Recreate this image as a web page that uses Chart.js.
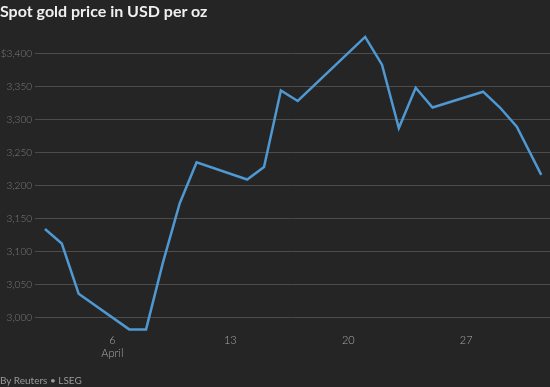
<!DOCTYPE html>
<html>
<head>
<meta charset="utf-8">
<script src="https://cdn.jsdelivr.net/npm/chart.js@4"></script>
<style>
  body { margin: 0; background: #252525; }
  #wrap { position: relative; width: 550px; height: 387px; overflow: hidden; }
  #title { position: absolute; left: 0; top: 1px; font: bold 16px Lato, sans-serif; color: #efefef; white-space: nowrap; }
  #source { position: absolute; left: 0; top: 374px; font: 10px Lato, sans-serif; color: #9a9a9a; white-space: nowrap; }
  canvas { position: absolute; left: 0; top: 0; }
</style>
</head>
<body>
<div id="wrap">
  <canvas id="goldChart" width="550" height="387"></canvas>
  <div id="title">Spot gold price in USD per oz</div>
  <div id="source">By Reuters • LSEG</div>
</div>
<script>
// day of month (31 = May 1, intraday)
const days = [2, 3, 4, 7, 8, 9, 10, 11, 14, 15, 16, 17, 21, 22, 23, 24, 25, 28, 29, 30, 31.45];
const prices = [3134, 3112, 3036, 2982, 2982, 3083, 3173, 3235, 3209, 3228, 3344, 3328, 3425, 3383, 3287, 3348, 3318, 3342, 3318, 3289, 3216];

const yTicks = [3000, 3050, 3100, 3150, 3200, 3250, 3300, 3350, 3400];
const xTicks = [6, 13, 20, 27];
const xTickLabels = [['6', 'April'], '13', '20', '27'];

const ctx = document.getElementById('goldChart');
new Chart(ctx, {
  type: 'line',
  data: {
    datasets: [{
      label: 'Spot gold',
      data: days.map((d, i) => ({ x: d, y: prices[i] })),
      borderColor: '#4f98d2',
      borderWidth: 2.5,
      pointRadius: 0,
      tension: 0,
      fill: false
    }]
  },
  options: {
    responsive: false,
    devicePixelRatio: 1,
    animation: false,
    layout: { padding: { top: 27, right: 0, bottom: 0, left: 0 } },
    plugins: {
      legend: { display: false },
      tooltip: { enabled: false }
    },
    scales: {
      x: {
        type: 'linear',
        min: 1.41,
        max: 31.97,
        grid: { display: false, drawTicks: false },
        border: { display: false },
        afterBuildTicks: (scale) => { scale.ticks = xTicks.map(v => ({ value: v })); },
        afterFit: (scale) => { scale.height = 53; },
        ticks: {
          autoSkip: false,
          maxRotation: 0,
          padding: 0,
          color: '#a8a8a8',
          font: { family: 'Lato', size: 11, weight: 300 },
          callback: (v, i) => xTickLabels[i]
        }
      },
      y: {
        min: 2975,
        max: 3440,
        grid: { color: '#4c4c4c', lineWidth: 1, drawTicks: false },
        border: { display: false },
        afterBuildTicks: (scale) => { scale.ticks = yTicks.map(v => ({ value: v })); },
        afterFit: (scale) => { scale.width = 35; },
        ticks: {
          padding: 3,
          color: '#7e7e7e',
          font: { family: 'Lato', size: 10, weight: 300 },
          callback: (v) => (v === yTicks[yTicks.length - 1] ? '$' : '') + v.toLocaleString('en-US')
        }
      }
    }
  }
});
</script>
</body>
</html>
